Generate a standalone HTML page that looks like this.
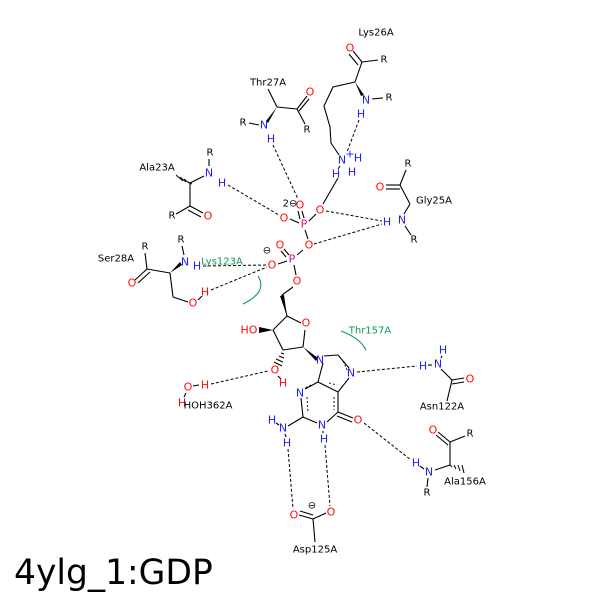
<!DOCTYPE html>
<html><head><meta charset="utf-8"><style>
html,body{margin:0;padding:0;background:#fff;}
svg{display:block;}
text{font-family:"DejaVu Sans","Liberation Sans",sans-serif;font-size:10px;dominant-baseline:central;text-anchor:middle;}
.o{fill:#ff0d0d;font-size:11px}.n{fill:#2020ff;font-size:11px}.p{fill:#e0108a;font-size:11px}.k{fill:#000}.g{fill:#119955}
.b line,.b polyline{stroke:#000;stroke-width:1.1;fill:none}
.d line{stroke:#000;stroke-width:1;stroke-dasharray:3,2}
</style></head><body>
<svg width="600" height="600" viewBox="0 0 600 600">
<rect width="600" height="600" fill="#fff"/>
<g class="b">
<!-- Lys26 -->
<line x1="353" y1="51" x2="362" y2="62"/><line x1="349" y1="54" x2="358" y2="65"/>
<line x1="362" y1="62" x2="378" y2="60"/><line x1="362" y1="62" x2="355" y2="82"/>
<polyline points="355,82 333,87 324,106 330,127 331,143 339,155"/>
<line x1="372" y1="99" x2="383" y2="98"/>
<line x1="338" y1="178" x2="323" y2="204"/>
<line x1="340" y1="166" x2="338" y2="169"/>
<!-- Thr27 -->
<line x1="277" y1="107" x2="268" y2="89"/><line x1="277" y1="107" x2="297" y2="109"/>
<line x1="297" y1="109" x2="307" y2="96"/><line x1="299" y1="111" x2="309" y2="99"/>
<line x1="297" y1="109" x2="305" y2="124"/><line x1="249" y1="123" x2="259" y2="125"/>
<!-- Ala23 -->
<line x1="190" y1="183" x2="204" y2="176"/><line x1="209" y1="166" x2="209" y2="159"/>
<line x1="190" y1="183" x2="190" y2="206"/><line x1="190" y1="206" x2="176" y2="214"/>
<line x1="190" y1="206" x2="203" y2="213"/><line x1="188" y1="210" x2="201" y2="217"/>
<!-- Gly25 -->
<line x1="406" y1="170" x2="400" y2="185"/><line x1="400" y1="185" x2="386" y2="185"/><line x1="400" y1="189" x2="386" y2="189"/>
<line x1="400" y1="185" x2="410" y2="204"/><line x1="410" y1="204" x2="404" y2="214"/><line x1="405" y1="226" x2="411" y2="235"/>
<!-- Ser28 -->
<line x1="182" y1="246" x2="184" y2="255"/><line x1="170" y1="273" x2="147" y2="269"/>
<line x1="147" y1="269" x2="145" y2="253"/><line x1="147" y1="269" x2="135" y2="280"/><line x1="150" y1="272" x2="138" y2="283"/>
<line x1="170" y1="273" x2="173" y2="297"/><line x1="173" y1="297" x2="188" y2="302"/>
<line x1="198" y1="300" x2="202" y2="296"/>
<!-- phosphates -->
<line x1="302" y1="211" x2="304" y2="218"/><line x1="298" y1="211" x2="300" y2="219"/>
<line x1="290" y1="219" x2="299" y2="223"/><line x1="316" y1="214" x2="309" y2="221"/>
<line x1="305" y1="230" x2="308" y2="239"/><line x1="303" y1="250" x2="297" y2="255"/>
<line x1="284" y1="249" x2="289" y2="255"/><line x1="281" y1="251" x2="286" y2="257"/>
<line x1="278" y1="264" x2="287" y2="261"/><line x1="294" y1="265" x2="296" y2="275"/>
<line x1="293" y1="287" x2="282" y2="295"/>
<!-- ribose -->
<line x1="282" y1="295" x2="287" y2="316"/><line x1="287" y1="316" x2="301" y2="323"/>
<line x1="305" y1="330" x2="303" y2="347"/><line x1="303" y1="347" x2="283" y2="350"/>
<line x1="283" y1="350" x2="273" y2="330"/><line x1="273" y1="330" x2="287" y2="316"/>
<line x1="278" y1="376" x2="281" y2="379"/>
<!-- purine -->
<line x1="323" y1="363" x2="318" y2="382"/><line x1="324" y1="356" x2="338" y2="355"/>
<line x1="338" y1="355" x2="349" y2="368"/><line x1="349" y1="378" x2="338" y2="392"/>
<line x1="338" y1="392" x2="318" y2="382"/><line x1="318" y1="382" x2="305" y2="389"/>
<line x1="301" y1="398" x2="303" y2="417"/><line x1="303" y1="417" x2="317" y2="423"/>
<line x1="327" y1="422" x2="338" y2="412"/><line x1="338" y1="412" x2="338" y2="392"/>
<line x1="338" y1="412" x2="353" y2="418"/><line x1="337" y1="416" x2="352" y2="422"/>
<line x1="303" y1="417" x2="288" y2="426"/>
<line x1="276" y1="423" x2="279" y2="425"/><line x1="285" y1="434" x2="286" y2="437"/>
<line x1="323" y1="431" x2="323" y2="433"/>
<!-- Asn122 -->
<line x1="441" y1="369" x2="452" y2="380"/><line x1="452" y1="380" x2="464" y2="378"/><line x1="452" y1="384" x2="464" y2="382"/>
<line x1="452" y1="380" x2="447" y2="401"/>
<line x1="428" y1="365" x2="432" y2="365"/><line x1="441" y1="358" x2="442" y2="356"/>
<!-- Ala156 -->
<line x1="438" y1="432" x2="450" y2="442"/><line x1="436" y1="435" x2="448" y2="445"/>
<line x1="450" y1="442" x2="465" y2="436"/><line x1="450" y1="442" x2="450" y2="465"/>
<line x1="450" y1="465" x2="435" y2="470"/><line x1="428" y1="478" x2="427" y2="487"/>
<line x1="420" y1="466" x2="424" y2="469"/>
<!-- Asp125 -->
<line x1="299" y1="515" x2="313" y2="519"/><line x1="300" y1="511" x2="313" y2="515"/>
<line x1="313" y1="519" x2="326" y2="513"/><line x1="313" y1="519" x2="315" y2="542"/>
<!-- HOH -->
<line x1="193" y1="386" x2="199" y2="385"/><line x1="186" y1="393" x2="184" y2="397"/>
</g>
<!-- wedges -->
<polygon points="355,82 364,95 361,96" fill="#000"/>
<polygon points="277,107 266,121 268,123" fill="#000"/>
<polygon points="170,273 182,265 180,262" fill="#000"/>
<polygon points="273,330 259,327 259,333" fill="#000"/>
<polygon points="303,347 318,358 316,361" fill="#000"/>
<polygon points="287,316 284,295 280,296" fill="#000"/>
<g stroke="#000" stroke-width="1">
<line x1="188" y1="182" x2="192" y2="184"/><line x1="184" y1="179" x2="189" y2="183"/><line x1="180" y1="177" x2="186" y2="182"/><line x1="176" y1="175" x2="183" y2="181"/>
<line x1="281" y1="353" x2="284" y2="354"/><line x1="279" y1="356" x2="284" y2="358"/><line x1="276" y1="359" x2="283" y2="362"/><line x1="274" y1="362" x2="282" y2="366"/>
<line x1="450" y1="465" x2="452" y2="467"/><line x1="454" y1="465" x2="456" y2="469"/><line x1="458" y1="465" x2="460" y2="471"/><line x1="462" y1="465" x2="464" y2="473"/>
</g>
<!-- aromatic inner dashes -->
<g stroke="#000" stroke-width="0.9" stroke-dasharray="2,2">
<line x1="329" y1="383" x2="337" y2="385"/><line x1="343" y1="361" x2="347" y2="370"/>
<line x1="307" y1="397" x2="308" y2="413"/><line x1="311" y1="385" x2="305" y2="388"/><line x1="334" y1="397" x2="334" y2="410"/>
</g>
<!-- hbonds -->
<g class="d">
<line x1="273" y1="145" x2="298" y2="199"/>
<line x1="359" y1="120" x2="347" y2="152"/>
<line x1="228" y1="185" x2="279" y2="215"/>
<line x1="326" y1="211" x2="382" y2="221"/>
<line x1="314" y1="244" x2="382" y2="224"/>
<line x1="203" y1="266" x2="267" y2="265"/>
<line x1="211" y1="290" x2="267" y2="267"/>
<line x1="211" y1="384" x2="268" y2="371"/>
<line x1="357" y1="372" x2="417" y2="366"/>
<line x1="364" y1="423" x2="411" y2="460"/>
<line x1="288" y1="449" x2="293" y2="509"/>
<line x1="325" y1="445" x2="330" y2="506"/>
</g>
<!-- green arcs -->
<path d="M258,276 Q268,292 243,304" stroke="#119955" stroke-width="1.1" fill="none"/>
<path d="M341,331 Q360,338 366,350" stroke="#119955" stroke-width="1.1" fill="none"/>
<!-- labels -->
<text x="376" y="33" class="k" font-size="9">Lys26A</text>
<text x="350" y="48" class="o">O</text><text x="384" y="60" class="k">R</text>
<text x="366" y="100" class="n">N</text><text x="389" y="98" class="k">R</text><text x="361" y="114" class="n">H</text>
<text x="342" y="160" class="n">N</text><text x="350" y="154" class="n" font-size="9">+</text><text x="358" y="158" class="n">H</text><text x="352" y="172" class="n">H</text><text x="336" y="174" class="n">H</text>
<text x="268" y="83" class="k" font-size="9">Thr27A</text>
<text x="310" y="92" class="o">O</text><text x="307" y="130" class="k">R</text>
<text x="264" y="125" class="n">N</text><text x="243" y="123" class="k">R</text><text x="271" y="139" class="n">H</text>
<text x="157" y="168" class="k" font-size="9">Ala23A</text>
<text x="210" y="153" class="k">R</text><text x="209" y="173" class="n">N</text><text x="222" y="183" class="n">H</text>
<text x="208" y="216" class="o">O</text><text x="172" y="216" class="k">R</text>
<text x="408" y="164" class="k">R</text><text x="380" y="187" class="o">O</text><text x="434" y="201" class="k" font-size="9">Gly25A</text>
<text x="402" y="220" class="n">N</text><text x="387" y="222" class="n">H</text><text x="414" y="240" class="k">R</text>
<text x="116" y="259" class="k" font-size="9">Ser28A</text>
<text x="145" y="247" class="k">R</text><text x="181" y="240" class="k">R</text><text x="185" y="262" class="n">N</text><text x="197" y="266" class="n">H</text>
<text x="132" y="283" class="o">O</text><text x="193" y="303" class="o">O</text><text x="205" y="292" class="o">H</text>
<text x="222" y="262" class="g" font-size="9">Lys123A</text>
<text x="290" y="204" class="k" font-size="8">2⊖</text>
<text x="300" y="205" class="o">O</text><text x="284" y="218" class="o">O</text><text x="320" y="210" class="o">O</text>
<text x="304" y="224" class="p">P</text><text x="309" y="245" class="o">O</text>
<text x="267" y="251" class="k">⊖</text>
<text x="280" y="245" class="o">O</text><text x="272" y="265" class="o">O</text><text x="292" y="259" class="p">P</text><text x="297" y="281" class="o">O</text>
<text x="306" y="323" class="o">O</text><text x="249" y="330" class="o">HO</text>
<text x="275" y="370" class="o">O</text><text x="283" y="383" class="o">H</text>
<text x="370" y="331" class="g" font-size="9">Thr157A</text>
<text x="320" y="360" class="n">N</text><text x="351" y="373" class="n">N</text>
<text x="300" y="393" class="n">N</text><text x="322" y="425" class="n">N</text><text x="324" y="439" class="n">H</text>
<text x="358" y="420" class="o">O</text>
<text x="283" y="428" class="n">N</text><text x="272" y="420" class="n">H</text><text x="287" y="443" class="n">H</text>
<text x="423" y="366" class="n">H</text><text x="438" y="364" class="n">N</text><text x="443" y="350" class="n">H</text>
<text x="470" y="379" class="o">O</text><text x="442" y="407" class="k" font-size="9">Asn122A</text>
<text x="433" y="430" class="o">O</text><text x="470" y="434" class="k">R</text>
<text x="416" y="463" class="n">H</text><text x="429" y="472" class="n">N</text><text x="427" y="493" class="k">R</text>
<text x="465" y="482" class="k" font-size="9">Ala156A</text>
<text x="294" y="515" class="o">O</text><text x="331" y="512" class="o">O</text><text x="312" y="506" class="k">⊖</text>
<text x="315" y="550" class="k" font-size="9">Asp125A</text>
<text x="188" y="387" class="o">O</text><text x="205" y="385" class="o">H</text><text x="182" y="403" class="o">H</text>
<text x="208" y="406" class="k" font-size="9">HOH362A</text>
<text x="14" y="584" style="text-anchor:start;dominant-baseline:alphabetic;font-size:34.5px;fill:#000">4ylg_1:GDP</text>
</svg>
</body></html>
